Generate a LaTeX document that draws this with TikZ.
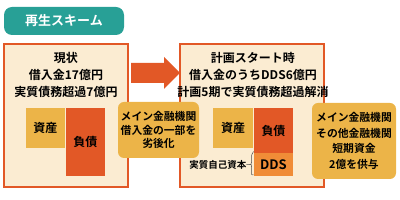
\documentclass[tikz,border=0pt]{standalone}
\usepackage{fontspec}
\newfontfamily\jp{Noto Sans CJK JP}[BoldFont={Noto Sans CJK JP Bold}]
\definecolor{teal1}{RGB}{40,160,150}
\definecolor{orng}{RGB}{226,88,38}
\definecolor{cream}{RGB}{251,236,210}
\definecolor{gold}{RGB}{236,180,72}
\definecolor{ddsc}{RGB}{240,140,55}
\tikzset{
  blk/.style={inner sep=0pt, outer sep=0pt, font=\jp\bfseries\fontsize{12}{12}\selectfont, text=black},
  bigbox/.style={blk, draw=orng, line width=2pt, fill=cream, minimum width=124pt, minimum height=143pt},
  callout/.style={blk, fill=gold, rounded corners=6pt, align=center},
  headtext/.style={blk, align=center, font=\jp\bfseries\fontsize{12}{17}\selectfont},
}
\begin{document}
\begin{tikzpicture}[x=1pt,y=-1pt]
\useasboundingbox (0,0) rectangle (400,200);
% title
\node[blk, fill=teal1, rounded corners=8pt, minimum width=120pt, minimum height=28pt, text=white,
  font=\jp\bfseries\fontsize{13}{13}\selectfont] (title) at (64,21) {再生スキーム};
% boxes
\node[bigbox] (leftbox) at (66,115.5) {};
\node[bigbox, minimum width=144pt] (rightbox) at (252,115.5) {};
% head texts
\node[headtext] (lt) at (66,75) {現状\\借入金17億円\\実質債務超過7億円};
\node[headtext] (rt) at (253,75) {計画スタート時\\借入金のうちDDS6億円\\計画5期で実質債務超過解消};
% arrow
\fill[orng] (131,63) -- (164,63) -- (164,57) -- (180,73) -- (164,89) -- (164,83) -- (131,83) -- cycle;
% left balance sheet
\node[blk, fill=gold, minimum width=39pt, minimum height=40pt] (asset1) at (45.5,128) {資産};
\node[blk, fill=orng, minimum width=39pt, minimum height=68pt] (debt1) at (85.5,142) {負債};
% right balance sheet
\node[blk, fill=gold, minimum width=40pt, minimum height=40pt] (asset2) at (233,128) {資産};
\node[blk, fill=orng, minimum width=39pt, minimum height=45pt] (debt2) at (273.5,130.5) {負債};
\node[blk, fill=ddsc, minimum width=39pt, minimum height=23pt, font=\jp\bfseries\fontsize{13}{13}\selectfont] (dds) at (273.5,164.5) {DDS};
\node[blk, anchor=east, font=\jp\bfseries\fontsize{9.5}{9.5}\selectfont] (eq) at (246.5,164.5) {実質自己資本};
\draw[black!70, line width=0.5pt] ([xshift=-0.5pt,yshift=1.5pt]dds.north west) .. controls (251.5,155) .. (251.5,158) -- (251.5,162.5) .. controls (251.5,164.5) .. (eq.east) -- (249.5,164.5);
\draw[black!70, line width=0.5pt] (249.5,164.5) .. controls (251.5,164.5) .. (251.5,166.5) -- (251.5,172) .. controls (251.5,175) .. (253.5,175);
% callouts
\node[callout, minimum width=81pt, minimum height=56pt, font=\jp\bfseries\fontsize{10.8}{13.5}\selectfont] (call1) at (158.5,130) {メイン金融機関\\借入金の一部を\\劣後化};
\node[callout, minimum width=84pt, minimum height=76pt, font=\jp\bfseries\fontsize{10.8}{15.5}\selectfont] (call2) at (354,141) {メイン金融機関\\その他金融機関\\短期資金\\2億を供与};
\end{tikzpicture}
\end{document}
